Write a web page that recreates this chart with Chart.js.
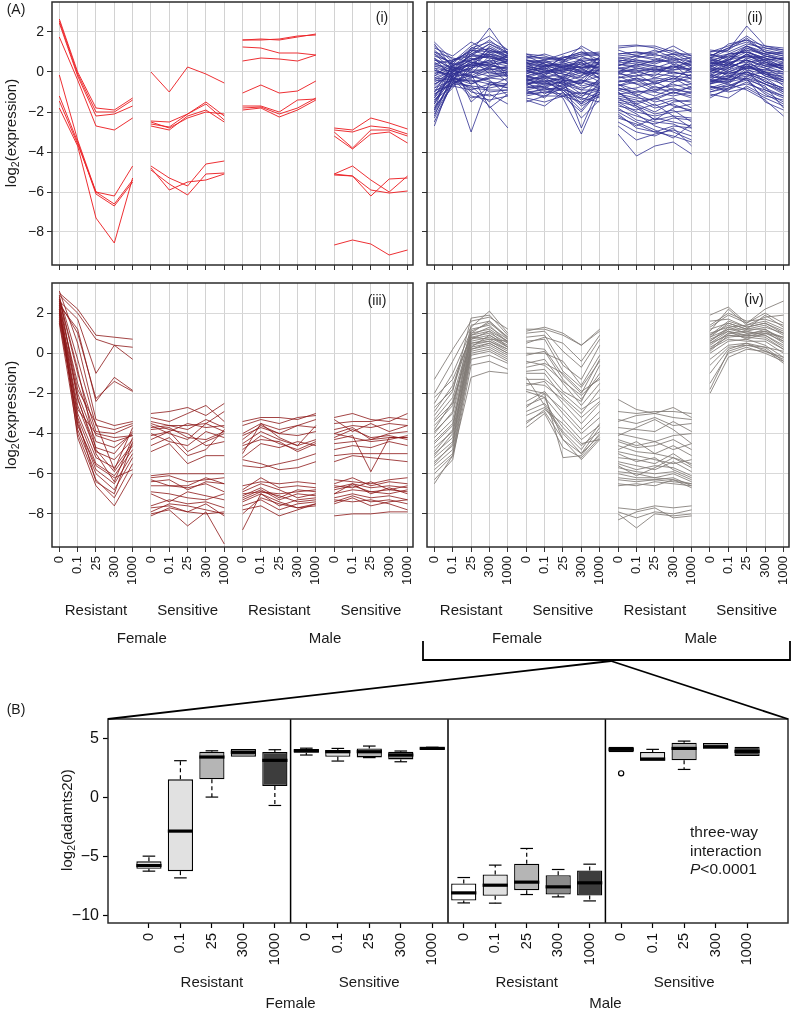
<!DOCTYPE html>
<html>
<head>
<meta charset="utf-8">
<script src="https://cdn.jsdelivr.net/npm/chart.js@4.4.1/dist/chart.umd.min.js"></script>
<style>
  body { margin: 0; background: #fff; width: 796px; height: 1012px; position: relative; overflow: hidden;
         font-family: "Liberation Sans", Arial, sans-serif; color: #1a1a1a; }
  canvas { position: absolute; }
  .t { position: absolute; white-space: nowrap; transform: translate(-50%, -50%); line-height: 1; }
  .rot { transform: translate(-50%, -50%) rotate(-90deg); }
  sub { font-size: 70%; vertical-align: -0.3em; line-height: 0; }
  svg { position: absolute; left: 0; top: 0; }
</style>
</head>
<body>
<canvas id="pI" width="420" height="272" style="left:0;top:0"></canvas>
<canvas id="pII" width="376" height="272" style="left:420px;top:0"></canvas>
<canvas id="pIII" width="420" height="331" style="left:0;top:281px"></canvas>
<canvas id="pIV" width="376" height="331" style="left:420px;top:281px"></canvas>
<canvas id="pB" width="796" height="312" style="left:0;top:700px"></canvas>
<svg id="deco" width="796" height="1012"></svg>
<script>
// x categories: 5 doses inside each of 4 population groups
const doseLabels = ['0', '0.1', '25', '300', '1000'];
const typeLabels = ['Resistant', 'Sensitive', 'Resistant', 'Sensitive'];
const sexLabels = ['Female', 'Male'];
const panelYTicks = [-8, -6, -4, -2, 0, 2];
const boxYTicks = [-10, -5, 0, 5];

// panel (i): 20 values per gene (F-Res, F-Sen, M-Res, M-Sen x 5 doses)
const panelIGenes = [
  [2.65, 0.0, -1.8, -1.9, -1.3, 0.0, -1.0, 0.25, -0.1, -0.55, 1.6, 1.65, 1.6, 1.75, 1.9, -2.8, -2.9, -2.3, -2.55, -2.85],
  [2.45, -0.2, -2.2, -2.1, -1.7, -2.45, -2.5, -2.1, -1.5, -2.2, 1.6, 1.6, 1.65, 1.8, 1.85, -2.9, -3.0, -2.7, -2.8, -3.1],
  [1.75, -0.4, -2.7, -2.9, -2.3, -2.6, -2.75, -2.1, -1.6, -2.4, 1.25, 1.2, 0.95, 0.95, 0.85, -3.0, -3.8, -2.9, -2.9, -3.2],
  [2.55, -0.1, -2.0, -2.0, -1.4, -2.7, -2.9, -2.2, -1.9, -2.5, 0.55, 0.7, 0.65, 0.55, 0.85, -3.2, -3.85, -3.1, -3.0, -3.55],
  [-0.15, -3.4, -6.0, -6.6, -5.4, -2.5, -2.8, -2.3, -2.0, -2.1, -1.05, -0.65, -1.05, -0.95, -0.45, -5.1, -4.7, -5.4, -6.0, -5.2],
  [-1.2, -3.5, -6.1, -6.7, -5.5, -4.7, -5.3, -5.7, -4.6, -4.45, -1.7, -1.7, -2.0, -1.4, -1.35, -5.1, -5.2, -6.2, -5.35, -5.3],
  [-1.45, -3.6, -6.0, -6.2, -4.7, -4.8, -5.9, -5.5, -5.4, -5.1, -1.8, -1.75, -2.1, -1.8, -1.3, -5.15, -5.2, -5.9, -6.05, -5.95],
  [-1.8, -3.7, -7.3, -8.55, -5.3, -4.9, -5.6, -6.15, -5.1, -5.05, -1.9, -1.8, -2.25, -1.9, -1.4, -8.65, -8.4, -8.6, -9.15, -8.9]
];

// panel (ii)
const panelIIGenes = [
  [1.5, 0.6, 0.9, 1.2, 0.8, 0.6, 0.5, 0.3, 0.4, 0.5, 1.3, 1.35, 1.2, 0.9, 0.7, 0.8, 1.2, 1.5, 1.1, 0.9],
  [1.3, 0.5, 1.3, 1.8, 1.1, 0.9, 0.8, 0.5, 1.3, 0.8, 1.2, 1.3, 1.3, 1.0, 0.8, 1.0, 1.1, 2.3, 1.3, 1.2],
  [1.1, 0.3, 1.0, 2.2, 0.9, 0.8, 0.7, 0.6, 0.9, 1.0, 0.9, 1.0, 0.8, 0.9, 0.9, 0.7, 1.4, 1.6, 1.0, 0.8],
  [0.9, 0.4, 0.6, 1.0, 1.0, 0.5, 0.6, 0.2, 0.5, 0.7, 0.6, 0.5, 0.5, 0.6, 0.3, 0.9, 0.6, 1.2, 0.9, 1.0],
  [0.6, 0.2, 0.8, 0.7, 0.5, 0.4, 0.3, 0.4, 0.2, 0.3, 0.4, 0.3, 0.6, 0.5, 0.4, 0.5, 0.9, 1.0, 0.6, 0.7],
  [0.4, 0.1, 0.4, 0.9, 0.6, 0.2, 0.0, 0.1, 0.3, 0.2, 0.2, 0.3, 0.1, 0.2, 0.5, 0.3, 0.4, 0.8, 0.7, 0.4],
  [0.2, 0.0, 0.5, 0.3, 0.2, 0.0, -0.1, 0.3, 0.0, -0.1, 0.1, 0.0, 0.2, -0.1, 0.0, 0.1, 0.2, 0.6, 0.3, 0.2],
  [0.0, -0.1, 0.2, 0.6, 0.4, -0.2, 0.1, -0.1, -0.3, 0.1, -0.1, 0.2, 0.0, 0.1, 0.2, -0.2, 0.0, 0.3, 0.1, 0.5],
  [-0.2, 0.2, 0.0, 0.0, 0.1, 0.1, -0.2, -0.2, 0.2, -0.3, -0.3, -0.2, -0.1, -0.2, -0.3, 0.0, 0.5, 0.1, -0.1, -0.2],
  [-0.4, 0.1, -0.3, 0.2, -0.1, -0.3, -0.3, -0.4, -0.5, -0.2, 0.0, 0.1, -0.3, 0.0, -0.2, -0.4, 0.1, 0.4, 0.2, -0.3],
  [-0.6, -0.2, 0.3, 0.5, 0.3, -0.4, -0.5, -0.2, -0.7, -0.5, -0.5, -0.4, -0.4, -0.5, -0.1, -0.3, -0.2, 0.0, -0.3, -0.6],
  [-0.8, 0.0, 0.7, 0.4, 0.0, -0.6, -0.4, -0.6, -0.9, -0.4, -0.2, -0.6, -0.6, -0.3, -0.5, -0.6, -0.4, -0.2, 0.0, -0.4],
  [-1.0, -0.3, -0.5, -0.3, -0.4, -0.8, -0.7, -0.5, -1.1, -0.8, -0.7, -0.3, -0.8, -0.7, -0.6, -0.8, -0.5, 0.2, -0.5, -0.8],
  [-1.2, -0.1, -0.2, -0.5, -0.6, -1.0, -0.9, -0.8, -1.4, -1.0, -0.9, -0.8, -0.5, -0.9, -0.8, -1.0, -0.7, -0.3, -0.8, -1.2],
  [-1.4, -0.4, -0.8, -0.9, -0.9, -1.2, -1.0, -0.9, -1.7, -1.2, -1.1, -1.0, -1.0, -1.2, -1.0, -1.2, -0.9, -0.5, -1.0, -1.5],
  [-1.6, -0.2, -1.0, -1.2, -1.0, -1.4, -1.7, -1.0, -2.3, -1.4, -1.3, -1.5, -1.3, -1.0, -1.2, -1.3, -0.8, -0.3, -1.5, -1.9],
  [-1.8, -0.5, -0.4, -1.0, -0.9, -0.3, -0.8, -1.3, -3.1, -1.0, -0.6, -1.2, -1.7, -1.4, -1.5, -0.4, -0.6, -0.9, -1.4, -2.2],
  [-2.0, -0.3, -3.0, -0.5, -0.8, -0.6, -0.5, -0.3, -2.8, -0.7, -1.5, -2.0, -2.2, -2.0, -1.9, 0.2, -0.2, -0.4, -0.7, -1.8],
  [-2.3, -0.6, -0.7, -1.5, -0.5, -1.5, -1.2, -1.2, -2.0, -0.9, -1.8, -2.4, -2.6, -2.3, -2.4, -0.6, 0.0, -0.1, -0.4, -1.0],
  [-2.7, -0.2, -0.9, -1.7, -2.8, -0.5, -1.1, -0.6, -1.6, -1.1, -2.1, -2.8, -3.0, -2.7, -2.8, -0.1, -0.4, 0.5, 0.0, -0.7],
  [1.0, 0.7, 0.5, 0.2, 0.6, 0.7, 0.9, 0.6, 0.2, 0.4, -2.3, -2.6, -3.0, -3.2, -3.5, 0.5, 0.3, 0.9, 0.4, 0.3],
  [0.8, 0.5, 1.1, 0.8, 0.4, 0.3, 0.1, 0.8, 0.6, 0.1, -1.9, -2.2, -2.5, -2.6, -3.0, 0.2, 0.7, 1.1, 0.5, 0.1],
  [0.5, -0.1, 0.1, 1.1, 0.7, 0.6, 0.4, 0.0, 0.7, 0.6, -1.5, -1.7, -2.1, -1.9, -2.5, 0.4, 0.8, 0.7, 0.8, 0.6],
  [0.3, 0.3, -0.6, -0.2, -0.2, 0.1, 0.2, -0.3, 0.1, 0.4, -2.5, -3.0, -3.2, -2.8, -3.7, -0.5, -0.3, 0.4, -0.2, -0.4],
  [-0.3, -0.4, 0.6, 0.8, 0.5, -0.1, 0.3, 0.1, 0.4, 0.2, -3.1, -4.2, -3.7, -3.5, -4.1, -0.7, -0.9, -0.2, -0.6, -1.0],
  [-0.5, 0.0, 0.9, 1.4, 1.0, 0.2, 0.0, 0.2, 0.6, 0.0, -1.2, -1.4, -1.8, -1.6, -2.0, 0.6, 0.5, 1.3, 0.9, 0.7],
  [-0.9, -0.7, 0.2, 1.3, 0.8, -0.4, -0.6, -0.7, -0.4, -0.6, 0.9, 1.0, 0.9, 1.3, 0.8, 1.1, 1.0, 1.4, 1.2, 1.0],
  [-1.1, -0.5, 1.2, 1.5, 1.1, -0.7, -0.2, 0.5, 0.8, 0.9, 0.6, 0.5, 0.3, 0.2, 0.6, -0.2, 0.4, 0.9, 0.6, 0.3],
  [-1.3, 0.4, -1.5, -0.7, -0.3, -0.9, -1.3, -0.4, 0.0, -0.5, -0.6, -0.9, -1.2, -0.8, -1.1, -0.9, -0.6, 0.1, -0.9, -1.2],
  [-1.5, 0.0, -1.2, -1.4, -1.2, -1.1, -1.0, -1.1, -1.3, -0.3, -1.0, -1.7, -2.4, -1.8, -1.6, 0.8, 1.2, 1.8, 1.2, 1.1],
  [-1.7, -0.8, 0.4, 0.1, 0.3, 0.4, 0.6, 0.9, 1.2, 0.3, -0.4, -0.6, -1.0, -0.5, -0.3, -0.3, 0.2, 0.6, -0.1, -0.5],
  [-1.9, 0.6, 1.0, 1.6, 0.9, 0.5, -0.2, -0.5, -0.2, 0.8, 0.3, 0.6, 0.4, 0.7, 0.2, 0.3, 0.9, 1.0, 0.7, 0.2],
  [-2.1, -0.6, -0.1, -1.8, -1.1, -0.2, -0.4, -1.0, -1.9, -0.8, -2.0, -2.5, -2.9, -3.3, -2.6, 0.0, -0.1, 0.2, 0.1, 0.0],
  [0.7, -0.3, -1.3, -1.1, -1.6, -1.3, -1.5, -1.2, -1.0, -1.3, -0.8, -1.1, -1.5, -1.3, -1.8, -1.1, -1.3, -0.7, -1.2, -1.4],
  [1.2, 0.8, 1.5, 1.0, 1.0, 0.9, 0.6, 0.7, 1.0, 0.6, 0.7, 0.8, 1.1, 0.7, 0.5, 0.7, 1.1, 1.7, 1.0, 0.8],
  [0.1, -0.2, -0.1, 0.8, -0.2, -0.5, -0.6, -0.5, -0.8, -0.6, -2.7, -3.4, -3.1, -2.9, -3.2, -0.4, -0.5, 0.0, -0.3, -0.9],
  [-0.7, 0.2, 0.1, 0.1, 0.2, 0.0, 0.5, 0.2, 0.1, -0.1, -0.3, 0.0, -0.2, 0.4, -0.4, 0.1, 0.6, 0.8, 0.5, 0.1],
  [0.2, -0.4, -0.4, -0.6, -0.7, -0.7, -0.9, -0.7, -1.2, -0.9, -1.7, -1.9, -1.6, -2.2, -2.3, -0.8, -0.7, -0.4, -1.1, -1.6],
  [-0.1, 0.3, 0.7, -0.1, 0.0, 0.3, 0.1, -0.1, -0.4, 0.5, 0.5, 0.8, 0.7, 0.4, 0.1, 0.6, 0.3, 0.9, 0.3, 0.4],
  [1.4, 0.2, 0.3, 0.6, -0.3, 0.8, 0.4, -0.4, -0.6, 0.6, 0.0, 0.4, 0.3, 0.1, 0.4, 0.9, 0.7, 1.3, 0.8, 0.6],
  [0.9, 0.1, 0.6, 0.9, 0.7, 0.4, 0.5, 0.6, 0.8, 0.4, 0.2, 0.1, 0.0, 0.3, 0.1, 0.4, 0.6, 1.0, 0.7, 0.5],
  [0.6, 0.4, 1.2, 1.1, 0.8, -0.1, 0.2, 0.0, 0.3, 0.7, -0.5, -0.3, -0.5, -0.2, -0.6, 0.2, 0.1, 0.7, 0.4, 0.2],
  [-0.3, 0.1, 0.9, 0.7, 0.6, 0.6, 0.3, 0.5, 0.0, 0.1, 0.7, 0.6, 0.5, 0.8, 0.3, 0.6, 0.8, 1.1, 0.9, 0.6],
  [-0.6, -0.1, 0.4, 1.2, 0.7, 0.1, -0.3, 0.0, -0.2, 0.3, -0.8, -1.0, -0.9, -0.6, -0.9, -0.5, -0.2, 0.3, 0.0, -0.3],
  [-1.0, 0.3, 0.8, 0.9, 0.4, -0.3, 0.0, -0.3, 0.5, -0.2, -1.4, -1.6, -2.0, -1.5, -1.4, 0.4, 0.5, 0.6, 0.2, -0.1],
  [-1.3, -0.2, 0.5, 0.3, 0.9, -0.8, -0.6, -0.3, -0.6, 0.2, 0.4, 0.2, 0.1, 0.0, -0.2, -0.1, 0.3, 0.5, 0.6, 0.1],
  [-1.6, 0.1, 0.6, 0.8, 0.6, 0.2, 0.3, 0.4, 0.6, 0.6, -0.1, -0.2, 0.1, 0.3, 0.0, 0.7, 0.9, 1.3, 1.0, 0.9],
  [-2.2, -0.1, 0.2, 0.4, 0.5, -1.0, -1.2, -0.8, -0.5, -0.8, -1.1, -1.3, -1.4, -1.0, -1.3, -0.6, -0.3, 0.0, -0.5, -0.8],
  [-2.5, -0.5, -0.3, 0.0, -0.2, -0.9, -0.7, -1.2, -1.5, -1.1, 1.1, 0.8, 0.6, 0.9, 0.5, 0.5, 0.2, 0.6, 0.3, 0.0],
  [0.4, 0.6, 0.8, 1.4, 0.9, 0.7, 0.7, 0.7, 0.9, 0.8, 0.8, 0.9, 1.0, 1.1, 0.6, 1.0, 1.3, 1.6, 1.3, 1.1],
  [0.1, -0.3, 0.0, 0.2, -0.5, -0.4, -0.2, -0.6, -0.4, -0.7, -2.2, -2.7, -2.3, -2.5, -2.7, -1.0, -0.8, -0.6, -0.9, -1.3],
  [-0.4, -0.5, -0.7, -0.8, -0.6, -0.6, -0.8, -0.9, -1.6, -0.5, -0.9, -1.2, -0.7, -1.1, -0.7, -0.7, -1.0, -0.8, -1.3, -1.7],
  [1.0, 0.4, 0.3, 0.4, 0.1, 0.3, 0.4, 0.2, -0.1, 0.0, 0.3, 0.7, 0.9, 0.6, 0.7, 0.1, -0.1, 0.2, 0.0, -0.1],
  [-0.8, -0.4, -0.2, -0.4, -1.2, -0.2, 0.0, 0.3, 0.5, -0.4, -1.6, -2.1, -2.7, -3.0, -3.4, 0.3, 0.0, 0.4, -0.2, -0.5],
  [0.3, 0.0, 0.4, 0.5, 0.8, 0.5, 0.2, 0.7, 1.0, 0.9, -0.7, -0.5, -0.3, -0.4, 0.2, 0.0, 0.4, 0.2, 0.5, 0.3],
  [-1.9, -0.3, -0.6, -0.3, -0.1, -0.4, -0.3, -0.8, -1.3, -1.5, 0.2, -0.1, -0.6, -0.3, -0.8, -0.2, -0.4, -0.1, -0.6, -0.9],
  [0.7, 0.1, -0.2, 0.3, 0.2, -0.5, -0.1, 0.1, 0.0, -0.3, -1.3, -1.8, -2.4, -2.2, -2.8, 0.7, 0.4, 0.8, 0.6, 0.7],
  [-1.1, -0.6, 0.0, -0.2, 0.0, -1.1, -0.8, -0.4, -0.9, -0.9, 0.5, 0.4, 0.2, 0.5, 0.0, -0.4, -0.3, 0.3, -0.1, -0.4],
  [-0.2, 0.5, 1.1, 1.0, 0.6, 0.0, 0.3, 0.3, 0.2, 0.5, -1.0, -1.6, -1.3, -1.7, -1.9, 0.3, 0.6, 1.2, 0.8, 0.6],
  [-1.4, -0.7, -0.9, -0.6, -0.8, -0.2, -0.5, -0.9, -1.1, -0.7, 0.0, -0.4, -0.9, -0.9, -1.0, -0.5, -0.5, -0.3, -0.6, -1.1]
];

// panel (iii)
const panelIIIGenes = [
  [3.0, 2.2, 0.9, 0.8, 0.7, -3.0, -2.9, -2.7, -3.1, -2.5, -3.4, -3.2, -3.2, -3.3, -3.0, -3.2, -3.0, -3.3, -3.4, -3.0],
  [2.9, 2.0, 0.7, 0.4, 0.3, -3.2, -3.4, -3.0, -2.6, -3.4, -3.6, -3.3, -3.5, -3.2, -3.1, -3.5, -3.4, -3.4, -3.2, -3.3],
  [2.6, 1.7, -1.0, 0.4, -0.3, -3.4, -3.6, -3.6, -3.5, -2.9, -4.0, -3.5, -3.8, -3.6, -3.7, -3.8, -3.6, -3.7, -3.5, -3.6],
  [2.4, 1.2, -2.4, -1.2, -1.85, -3.7, -3.6, -3.8, -3.3, -3.7, -4.3, -3.6, -4.0, -4.1, -3.9, -4.0, -3.7, -4.3, -4.2, -4.2],
  [2.5, 1.0, -2.25, -1.4, -1.9, -3.8, -3.7, -4.2, -4.3, -3.9, -4.5, -3.9, -4.3, -4.6, -4.3, -4.2, -3.8, -4.2, -4.1, -4.3],
  [3.1, 0.5, -3.3, -3.6, -3.4, -4.0, -4.4, -4.6, -3.9, -4.2, -4.8, -4.1, -4.5, -4.8, -4.4, -4.3, -4.1, -5.9, -4.2, -4.2],
  [2.8, -0.3, -3.6, -3.8, -3.5, -4.3, -3.9, -4.9, -4.4, -4.0, -5.0, -3.5, -4.2, -4.6, -3.6, -4.5, -4.4, -4.3, -4.0, -3.9],
  [2.7, -1.0, -3.9, -4.0, -3.6, -4.6, -4.2, -5.1, -4.8, -3.8, -5.2, -4.5, -4.7, -4.4, -4.6, -4.8, -4.6, -4.7, -4.4, -4.6],
  [2.3, -1.5, -4.1, -4.4, -4.1, -4.9, -4.5, -5.5, -5.1, -5.1, -5.6, -5.7, -5.5, -5.3, -5.0, -5.1, -5.0, -5.0, -5.0, -5.0],
  [2.1, -2.0, -4.4, -4.7, -4.0, -3.5, -3.8, -4.0, -4.6, -4.4, -5.3, -5.5, -5.8, -5.7, -5.4, -5.4, -5.1, -5.2, -5.3, -5.4],
  [2.9, -2.3, -4.7, -5.0, -3.9, -4.1, -3.9, -3.5, -3.7, -3.6, -4.1, -3.7, -4.0, -3.6, -3.3, -3.3, -3.9, -3.5, -3.9, -3.6],
  [2.0, -2.6, -4.9, -5.3, -4.3, -3.6, -4.0, -4.3, -3.5, -3.9, -4.6, -4.3, -4.4, -4.9, -4.5, -4.0, -4.2, -4.4, -4.3, -4.1],
  [1.8, -3.0, -5.2, -5.7, -4.5, -6.1, -6.0, -6.0, -6.0, -6.0, -6.6, -6.4, -6.5, -6.4, -6.5, -6.3, -6.4, -6.5, -6.3, -6.2],
  [2.6, -3.2, -5.5, -6.1, -4.8, -6.2, -6.1, -6.4, -6.3, -6.2, -6.8, -6.2, -6.7, -6.6, -6.7, -6.5, -6.2, -6.6, -6.4, -6.5],
  [1.6, -3.5, -5.8, -6.5, -5.0, -6.4, -6.3, -6.8, -6.4, -6.5, -7.0, -6.9, -7.0, -6.9, -6.8, -6.7, -6.5, -6.7, -6.6, -6.7],
  [2.2, -3.8, -6.0, -6.8, -5.2, -6.6, -6.6, -6.7, -6.5, -6.9, -7.2, -6.8, -7.3, -7.0, -7.1, -6.8, -6.6, -6.9, -6.8, -6.9],
  [1.5, -4.0, -6.3, -7.2, -5.5, -6.9, -7.0, -7.2, -7.3, -7.0, -7.4, -7.0, -7.6, -7.3, -7.2, -7.0, -6.8, -6.9, -7.0, -6.8],
  [2.4, -4.2, -6.6, -7.6, -6.0, -7.6, -7.3, -7.5, -7.4, -7.7, -7.6, -7.3, -7.8, -7.5, -7.4, -7.2, -7.0, -7.2, -7.1, -7.3],
  [2.0, -2.2, -5.0, -6.4, -4.2, -7.7, -7.6, -7.9, -7.5, -8.1, -7.8, -7.6, -8.1, -7.8, -7.5, -7.4, -7.1, -7.4, -7.3, -7.5],
  [1.7, -3.3, -6.4, -7.0, -4.4, -8.0, -7.8, -8.6, -7.9, -9.5, -8.8, -7.0, -7.4, -7.7, -7.6, -8.1, -8.0, -8.0, -7.9, -7.9],
  [2.5, -1.8, -3.5, -5.8, -3.7, -7.9, -7.5, -7.6, -7.8, -8.0, -8.0, -7.2, -7.5, -7.7, -7.5, -7.3, -7.4, -7.3, -7.5, -7.8],
  [1.9, -2.8, -4.0, -4.2, -4.1, -6.3, -6.6, -6.6, -6.2, -6.5, -6.9, -6.5, -6.8, -7.2, -7.0, -6.6, -6.7, -6.4, -6.8, -6.6],
  [2.2, -3.6, -5.6, -6.2, -5.8, -7.0, -7.4, -6.9, -7.1, -7.3, -7.3, -6.9, -7.1, -7.4, -7.3, -7.0, -6.5, -7.0, -6.7, -7.0],
  [2.7, -0.8, -4.8, -5.9, -4.6, -8.1, -7.7, -7.9, -8.0, -7.9, -7.1, -6.7, -7.2, -6.8, -6.9, -7.5, -7.2, -7.6, -7.4, -7.3]
];

// panel (iv)
const panelIVGenes = [
  [-1.3, 0.2, 1.6, 1.8, 1.2, 1.1, 1.3, 1.0, 0.4, 1.2, -2.3, -2.8, -3.0, -2.7, -3.2, 1.9, 2.3, 1.5, 2.2, 2.6],
  [-2.0, -0.4, 1.3, 2.1, 1.0, 1.0, 1.1, 0.1, -0.7, 0.7, -2.9, -3.0, -2.9, -2.9, -3.0, 1.4, 2.0, 1.6, 1.7, 1.4],
  [-2.5, -1.0, 1.1, 1.5, 0.8, 0.8, 0.9, -0.6, -1.3, 0.4, -3.3, -3.5, -3.2, -3.6, -3.5, 1.2, 1.5, 1.2, 1.9, 1.3],
  [-2.9, -1.6, 1.0, 1.2, 0.6, 0.3, 0.2, -1.1, -2.0, -0.3, -3.7, -3.8, -3.9, -3.4, -3.9, 1.0, 1.3, 1.4, 1.6, 1.2],
  [-3.3, -2.2, 0.9, 1.3, 0.7, 0.0, 0.0, -0.4, -1.6, -0.1, -4.0, -4.2, -4.4, -4.1, -4.0, 0.9, 1.4, 1.1, 1.3, 1.0],
  [-3.6, -2.6, 0.8, 1.0, 0.5, -0.1, 0.1, -1.3, -2.3, -1.0, -4.3, -4.6, -4.4, -4.8, -4.5, 0.7, 1.1, 0.9, 1.2, 0.6],
  [-3.9, -3.0, 0.7, 0.9, 0.4, -0.5, -0.3, -1.5, -2.6, -1.5, -4.6, -4.9, -5.0, -4.6, -5.1, 0.6, 1.2, 1.0, 1.0, 0.8],
  [-4.2, -3.3, 0.6, 0.8, 0.3, -0.9, -0.8, -1.9, -2.4, -0.6, -4.9, -5.1, -5.3, -5.5, -5.3, 0.5, 0.9, 0.8, 1.1, 0.5],
  [-4.5, -3.6, 0.5, 0.7, 0.2, -1.0, -1.0, -2.2, -3.0, -1.8, -5.2, -5.3, -5.5, -5.0, -5.6, 0.4, 1.0, 1.1, 0.9, 0.4],
  [-4.7, -3.9, 0.4, 0.6, 0.1, -1.3, -1.3, -2.0, -2.8, -2.2, -5.4, -5.6, -5.8, -5.4, -5.9, 0.3, 0.8, 0.9, 0.8, 0.2],
  [-5.0, -4.2, 0.3, 0.5, 0.0, -1.6, -1.4, -2.5, -3.5, -2.5, -5.5, -5.8, -5.6, -5.7, -6.1, 0.2, 0.7, 0.6, 0.6, 0.0],
  [-5.2, -4.4, 0.2, 0.4, -0.1, -1.8, -2.0, -2.8, -3.8, -2.9, -5.7, -5.9, -6.0, -5.9, -6.3, 0.0, 0.6, 0.7, 0.4, -0.2],
  [-5.4, -4.6, 0.1, 0.3, -0.2, -2.4, -1.9, -3.0, -4.0, -3.2, -5.9, -6.0, -6.2, -6.0, -6.4, -0.3, 0.4, 0.5, 0.3, -0.4],
  [-5.6, -4.8, 0.0, 0.2, -0.3, -2.6, -2.2, -3.3, -4.3, -3.6, -6.0, -6.2, -6.2, -6.3, -6.5, -0.6, 0.3, 0.4, 0.2, -0.5],
  [-5.8, -5.0, -0.1, 0.1, -0.4, -2.9, -2.5, -3.7, -4.6, -3.9, -6.2, -6.3, -6.3, -6.2, -6.6, -1.0, 0.2, 0.5, 0.1, -0.3],
  [-6.0, -5.1, -0.3, -0.1, -0.5, -3.1, -2.7, -4.0, -5.0, -4.1, -6.3, -6.4, -6.3, -6.4, -6.5, -1.5, 0.0, 0.3, 0.0, -0.4],
  [-6.3, -5.3, -0.6, -0.4, -0.8, -3.4, -2.9, -4.3, -5.3, -4.3, -6.5, -6.6, -6.4, -6.5, -6.6, -2.0, -0.2, 0.2, 0.1, -0.2],
  [-6.5, -5.1, -1.2, -0.9, -1.0, -3.7, -3.0, -4.7, -5.2, -4.2, -6.6, -6.5, -6.6, -6.3, -6.7, -1.8, 0.1, 0.4, 0.3, 0.1],
  [-3.1, -1.9, 1.75, 1.9, 0.9, 0.6, 0.7, -0.9, -1.7, -0.4, -7.7, -7.8, -7.6, -7.7, -7.6, 1.6, 1.7, 1.3, 1.5, 1.1],
  [-4.0, -2.9, 1.4, 1.6, 0.7, -1.9, -2.2, -4.3, -5.0, -3.7, -7.9, -8.2, -7.9, -8.0, -7.8, 0.8, 1.5, 1.2, 1.4, 0.9],
  [-4.9, -3.8, 1.2, 1.4, 0.5, -2.7, -2.0, -5.2, -5.1, -4.0, -8.0, -8.7, -8.0, -8.1, -8.0, 0.5, 1.1, 0.7, 1.0, 0.6],
  [-5.5, -4.5, 0.9, 1.1, 0.3, -1.5, -1.6, -2.3, -3.2, -2.4, -8.3, -7.9, -7.7, -8.2, -8.1, 0.1, 0.9, 0.8, 0.7, 0.2],
  [-2.2, -1.3, 0.8, 0.7, 0.6, 0.5, 0.8, 0.5, -0.4, 0.9, -4.1, -3.7, -3.3, -3.8, -4.5, 1.3, 1.9, 1.5, 2.0, 1.5],
  [-3.4, -2.5, 0.5, 0.6, 0.2, -0.7, -0.5, -1.0, -1.9, -1.3, -4.8, -4.4, -5.0, -5.2, -5.5, 0.9, 1.6, 1.3, 1.5, 1.0],
  [-4.4, -3.5, 0.3, 0.9, 0.3, -1.2, -2.6, -3.9, -4.8, -3.5, -5.0, -5.4, -5.2, -5.8, -6.2, 0.6, 1.3, 1.0, 1.1, 0.8],
  [-5.1, -4.0, 0.2, 0.5, 0.0, -3.5, -2.8, -3.5, -4.5, -4.3, -5.6, -6.1, -5.7, -5.2, -5.7, 0.2, 1.0, 0.9, 0.9, 0.3],
  [-2.7, -1.8, 1.0, 1.6, 0.8, 1.2, 1.2, 0.9, 0.4, 1.1, -3.4, -3.1, -3.0, -3.2, -3.3, 1.1, 2.2, 1.4, 1.8, 1.9],
  [-3.8, -2.4, 0.7, 1.1, 0.6, -0.4, -0.6, -1.4, -2.1, -1.2, -4.4, -4.7, -4.6, -4.3, -4.8, 0.8, 1.2, 1.2, 1.2, 0.7]
];

// panel (B): adamts20 box plot, 20 boxes in the same category order
const boxWhiskerLow = [-6.21, -6.78, 0.06, 3.47, -0.65, 3.62, 3.11, 3.40, 3.05, 4.10, -8.9, -8.92, -8.19, -8.39, -8.73, 3.85, 3.14, 2.4, 4.15, 3.53];
const boxQ1 = [-6.01, -6.21, 1.56, 3.47, 0.99, 3.82, 3.47, 3.42, 3.25, 4.10, -8.7, -8.3, -7.82, -8.19, -8.27, 3.85, 3.14, 3.17, 4.15, 3.53];
const boxMedian = [-5.73, -2.82, 3.45, 3.85, 3.17, 3.98, 3.90, 3.90, 3.62, 4.18, -8.05, -7.4, -7.14, -7.54, -7.2, 4.10, 3.28, 4.18, 4.32, 3.93];
const boxQ3 = [-5.38, 1.56, 3.90, 4.13, 3.87, 4.12, 4.04, 4.18, 3.90, 4.25, -7.26, -6.5, -5.59, -6.55, -6.15, 4.32, 3.87, 4.66, 4.64, 4.32];
const boxWhiskerHigh = [-4.94, 3.14, 3.98, 4.13, 4.07, 4.20, 4.18, 4.38, 3.96, 4.28, -6.75, -5.7, -4.29, -6.07, -5.62, 4.32, 4.10, 4.80, 4.64, 4.32];
const boxOutliers = [{ x: 15, y: 2.07 }];

const FONT = '"Liberation Sans", Arial, sans-serif';
const boxFills = ['#ffffff', '#e1e1e1', '#b5b5b5', '#8a8a8a', '#3d3d3d'];
const minus = v => (v < 0 ? '\u2212' + Math.abs(v) : String(v));
const catPositions = doseLabels.length * typeLabels.length;

const framePlugin = {
  id: 'frame',
  afterDraw(chart) {
    const { ctx, chartArea: a } = chart;
    ctx.save();
    ctx.strokeStyle = '#2b2b2b';
    ctx.lineWidth = 1.5;
    ctx.strokeRect(a.left, a.top, a.right - a.left, a.bottom - a.top);
    ctx.restore();
  }
};

function linePanel(id, genes, color, showX, showY, yWidth, xHeight) {
  const datasets = genes.map(vals => ({
    data: vals.map((y, i) => ({ x: i, y: y })),
    borderColor: color,
    borderWidth: 1,
    pointRadius: 0,
    tension: 0,
    segment: { borderColor: c => (c.p0DataIndex % 5 === 4 ? 'rgba(0,0,0,0)' : undefined) }
  }));
  return new Chart(document.getElementById(id), {
    type: 'line',
    data: { datasets },
    options: {
      responsive: false, animation: false, events: [],
      layout: { padding: { top: 2, right: 7, left: 0, bottom: 0 } },
      plugins: { legend: { display: false }, tooltip: { enabled: false } },
      scales: {
        x: {
          type: 'linear', min: -0.4, max: 19.3,
          afterBuildTicks: s => { s.ticks = Array.from({ length: catPositions }, (_, i) => ({ value: i })); },
          afterFit: s => { s.height = xHeight; s.paddingLeft = 0; s.paddingRight = 0; },
          ticks: {
            display: showX, autoSkip: false, minRotation: 90, maxRotation: 90, padding: 4,
            font: { family: FONT, size: 13 }, color: '#1a1a1a',
            callback: v => doseLabels[v % 5]
          },
          grid: { color: '#d2d2d2', lineWidth: 1, tickLength: 5, tickColor: '#333', drawTicks: true },
          border: { display: false }
        },
        y: {
          min: -9.65, max: 3.5,
          afterBuildTicks: s => { s.ticks = panelYTicks.map(v => ({ value: v })); },
          afterFit: s => { s.width = yWidth; s.paddingTop = 0; s.paddingBottom = 0; },
          ticks: { display: showY, padding: 3, font: { family: FONT, size: 14 }, color: '#1a1a1a', callback: v => minus(v) },
          grid: { color: '#d9d9d9', lineWidth: 1, tickLength: 5, tickColor: '#333', drawTicks: true },
          border: { display: false }
        }
      }
    },
    plugins: [framePlugin]
  });
}

const chartI = linePanel('pI', panelIGenes, 'rgba(236,36,40,0.95)', false, true, 52, 7);
const chartII = linePanel('pII', panelIIGenes, 'rgba(48,48,146,0.8)', false, false, 7, 7);
const chartIII = linePanel('pIII', panelIIIGenes, 'rgba(140,22,22,0.8)', true, true, 52, 65);
const chartIV = linePanel('pIV', panelIVGenes, 'rgba(128,122,118,0.85)', true, false, 7, 65);

// whiskers, medians and group dividers for the box plot
const boxPlugin = {
  id: 'boxparts',
  afterDatasetsDraw(chart) {
    const { ctx, chartArea: a } = chart;
    const x = chart.scales.x, y = chart.scales.y;
    const bars = chart.getDatasetMeta(0).data;
    ctx.save();
    ctx.strokeStyle = '#000';
    boxMedian.forEach((m, i) => {
      const cx = x.getPixelForValue(i);
      const hw = bars[i].width / 2;
      const seg = (x1, y1, x2, y2) => { ctx.beginPath(); ctx.moveTo(x1, y1); ctx.lineTo(x2, y2); ctx.stroke(); };
      ctx.lineWidth = 1.2;
      if (boxWhiskerHigh[i] > boxQ3[i]) {
        ctx.setLineDash([4, 3]);
        seg(cx, y.getPixelForValue(boxQ3[i]), cx, y.getPixelForValue(boxWhiskerHigh[i]));
        ctx.setLineDash([]);
        seg(cx - hw / 2, y.getPixelForValue(boxWhiskerHigh[i]), cx + hw / 2, y.getPixelForValue(boxWhiskerHigh[i]));
      }
      if (boxWhiskerLow[i] < boxQ1[i]) {
        ctx.setLineDash([4, 3]);
        seg(cx, y.getPixelForValue(boxQ1[i]), cx, y.getPixelForValue(boxWhiskerLow[i]));
        ctx.setLineDash([]);
        seg(cx - hw / 2, y.getPixelForValue(boxWhiskerLow[i]), cx + hw / 2, y.getPixelForValue(boxWhiskerLow[i]));
      }
      ctx.lineWidth = 3.2;
      seg(cx - hw, y.getPixelForValue(m), cx + hw, y.getPixelForValue(m));
    });
    ctx.lineWidth = 1.5;
    [4.5, 9.5, 14.5].forEach(v => {
      const px = x.getPixelForValue(v);
      ctx.beginPath(); ctx.moveTo(px, a.top); ctx.lineTo(px, a.bottom); ctx.stroke();
    });
    ctx.restore();
  }
};

const chartB = new Chart(document.getElementById('pB'), {
  type: 'bar',
  data: {
    datasets: [
      {
        data: boxQ1.map((lo, i) => ({ x: i, y: [lo, boxQ3[i]] })),
        backgroundColor: boxQ1.map((_, i) => boxFills[i % 5]),
        borderColor: '#000', borderWidth: 1.3, borderSkipped: false,
        categoryPercentage: 0.8, barPercentage: 1
      },
      {
        type: 'scatter', data: boxOutliers,
        pointRadius: 2.6, pointBackgroundColor: '#fff', pointBorderColor: '#000', pointBorderWidth: 1.2
      }
    ]
  },
  options: {
    responsive: false, animation: false, events: [],
    layout: { padding: { top: 19, right: 8, left: 0, bottom: 0 } },
    plugins: { legend: { display: false }, tooltip: { enabled: false } },
    scales: {
      x: {
        type: 'linear', min: -1.3, max: 20.3, offset: false,
        afterBuildTicks: s => { s.ticks = boxMedian.map((_, i) => ({ value: i })); },
        afterFit: s => { s.height = 89; s.paddingLeft = 0; s.paddingRight = 0; },
        ticks: {
          autoSkip: false, minRotation: 90, maxRotation: 90, padding: 5,
          font: { family: FONT, size: 14.5 }, color: '#111',
          callback: v => doseLabels[v % 5]
        },
        grid: { offset: false, drawOnChartArea: false, tickLength: 5, tickColor: '#000', tickWidth: 1.2 },
        border: { display: false }
      },
      y: {
        min: -10.6, max: 6.67,
        afterBuildTicks: s => { s.ticks = boxYTicks.map(v => ({ value: v })); },
        afterFit: s => { s.width = 108; s.paddingTop = 0; s.paddingBottom = 0; },
        ticks: { padding: 4, font: { family: FONT, size: 16 }, color: '#111', callback: v => minus(v) },
        grid: { drawOnChartArea: false, tickLength: 5, tickColor: '#000', tickWidth: 1.2 },
        border: { display: false }
      }
    }
  },
  plugins: [boxPlugin, framePlugin]
});

// ---- text and decorations ----
function addText(html, x, y, size, cls) {
  const d = document.createElement('div');
  d.className = 't' + (cls ? ' ' + cls : '');
  d.innerHTML = html;
  d.style.left = x + 'px';
  d.style.top = y + 'px';
  d.style.fontSize = size + 'px';
  document.body.appendChild(d);
  return d;
}

addText('(A)', 16, 9, 14);
addText('(B)', 16, 709, 14);
addText('(i)', 382, 17, 14);
addText('(ii)', 755, 17, 14);
addText('(iii)', 377, 300, 14);
addText('(iv)', 754, 299, 14);
addText('log<sub>2</sub>(expression)', 10, 133, 15, 'rot');
addText('log<sub>2</sub>(expression)', 10, 415, 15, 'rot');
addText('log<sub>2</sub>(adamts20)', 66, 820, 15, 'rot');

[[chartIII, 0], [chartIV, 420]].forEach(([c, off]) => {
  typeLabels.forEach((t, g) => addText(t, off + c.scales.x.getPixelForValue(g * 5 + 2), 609, 15));
  sexLabels.forEach((t, k) => addText(t, off + c.scales.x.getPixelForValue(k * 10 + 4.5), 637, 15));
});
typeLabels.forEach((t, g) => addText(t, chartB.scales.x.getPixelForValue(g * 5 + 2), 981, 15));
sexLabels.forEach((t, k) => addText(t, chartB.scales.x.getPixelForValue(k * 10 + 4.5), 1002, 15));

const note = document.createElement('div');
note.style.cssText = 'position:absolute;left:690px;top:823px;font-size:15.5px;line-height:18.5px;color:#1a1a1a';
note.innerHTML = 'three-way<br>interaction<br><i>P</i>&lt;0.0001';
document.body.appendChild(note);

// bracket under panels (ii)/(iv) and the zoom lines to panel B
const aIV = chartIV.chartArea, aB = chartB.chartArea;
const bl = 420 + aIV.left - 4, br = 420 + aIV.right + 1;
const apexX = 611, apexY = 661;
document.getElementById('deco').innerHTML =
  `<path d="M${bl} 641 V660 H${br} V641" fill="none" stroke="#000" stroke-width="1.8"/>` +
  `<line x1="${apexX}" y1="${apexY}" x2="${aB.left}" y2="${700 + aB.top}" stroke="#000" stroke-width="1.8"/>` +
  `<line x1="${apexX}" y1="${apexY}" x2="${aB.right}" y2="${700 + aB.top}" stroke="#000" stroke-width="1.8"/>`;
</script>
</body>
</html>
